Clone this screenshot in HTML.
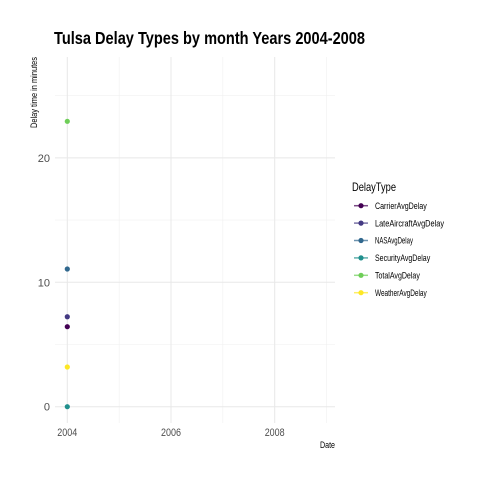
<!DOCTYPE html>
<html><head><meta charset="utf-8"><style>
html,body{margin:0;padding:0;background:#fff;}
svg text{font-family:"Liberation Sans",sans-serif;}
</style></head><body>
<svg id="chart" width="480" height="480" viewBox="0 0 480 480" xmlns="http://www.w3.org/2000/svg">
<rect width="480" height="480" fill="#fff"/>
<text x="54" y="44" font-size="17.5" font-weight="bold" fill="#000" textLength="311" lengthAdjust="spacingAndGlyphs">Tulsa Delay Types by month Years 2004-2008</text>
<g id="grid"></g>
<g id="axes"></g>
<g id="points"></g>
<text x="37" y="128" font-size="9" fill="#000" transform="rotate(-90 37 128)" textLength="71" lengthAdjust="spacingAndGlyphs">Delay time in minutes</text>
<text x="335" y="448" font-size="9" fill="#000" text-anchor="end" textLength="15" lengthAdjust="spacingAndGlyphs">Date</text>
<g id="legend"></g>
</svg>
<script>
const seriesNames=["CarrierAvgDelay","LateAircraftAvgDelay","NASAvgDelay","SecurityAvgDelay","TotalAvgDelay","WeatherAvgDelay"];
const seriesColors=["#440154","#443a83","#31688e","#21908d","#6ece58","#fde725"];
const seriesYears=[2004,2004,2004,2004,2004,2004];
const seriesValues=[6.43,7.23,11.07,0,22.94,3.19];
const yTicks=[0,10,20];
const yMinor=[5,15,25];
const xTicks=[2004,2006,2008];
const xMinor=[2005,2007,2009];
const NS="http://www.w3.org/2000/svg";
const L=55,R=335,T=57,B=423;
const y=v=>406.7-v*12.44;
const x=v=>67.3+(v-2004)*51.85;
function mk(tag,attrs,parent){const e=document.createElementNS(NS,tag);for(const k in attrs)e.setAttribute(k,attrs[k]);parent.appendChild(e);return e;}
const grid=document.getElementById('grid'),axes=document.getElementById('axes'),pts=document.getElementById('points'),leg=document.getElementById('legend');
yMinor.forEach(v=>{const l=mk('line',{x1:L,x2:R,y1:y(v),y2:y(v),stroke:'#f0f0f0','stroke-width':0.6},grid);

});
xMinor.forEach(v=>{const l=mk('line',{x1:x(v),x2:x(v),y1:T,y2:B,stroke:'#f0f0f0','stroke-width':0.6},grid);

});
yTicks.forEach(v=>{const l=mk('line',{x1:L,x2:R,y1:y(v),y2:y(v),stroke:'#e8e8e8','stroke-width':1},grid);


const t=mk('text',{x:50,y:y(v)+4,'font-size':11,fill:'#4d4d4d','text-anchor':'end'},axes);t.textContent=v;

});
xTicks.forEach(v=>{const l=mk('line',{x1:x(v),x2:x(v),y1:T,y2:B,stroke:'#e8e8e8','stroke-width':1},grid);


const t=mk('text',{x:x(v),y:436,'font-size':11,fill:'#4d4d4d','text-anchor':'middle',textLength:20,lengthAdjust:'spacingAndGlyphs'},axes);t.textContent=v;

});
seriesValues.forEach((v,i)=>{const c=mk('circle',{cx:x(seriesYears[i]),cy:y(v),r:2.6,fill:seriesColors[i]},pts);

});
const lt=mk('text',{x:352,y:191,'font-size':12,fill:'#000',textLength:44,lengthAdjust:'spacingAndGlyphs'},leg);lt.textContent='DelayType';


seriesNames.forEach((n,i)=>{const yy=205.7+i*17.4;
const g=mk('g',{},leg);


mk('line',{x1:354,x2:368,y1:yy,y2:yy,stroke:seriesColors[i],'stroke-width':1.5,opacity:0.7},g);
mk('circle',{cx:361,cy:yy,r:2.6,fill:seriesColors[i]},g);
const t=mk('text',{x:375,y:yy+3.2,'font-size':9,fill:'#000',textLength:n.length*3.45,lengthAdjust:'spacingAndGlyphs'},g);t.textContent=n;});
</script>
</body></html>
